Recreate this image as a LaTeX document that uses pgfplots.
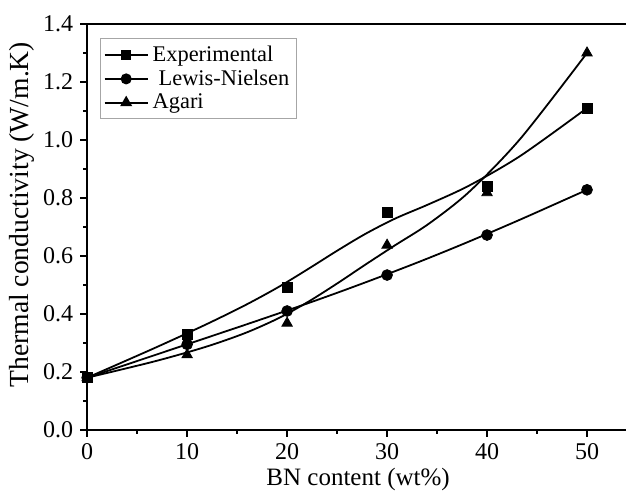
\documentclass[border=0pt]{standalone}
\usepackage{fontspec}
\setmainfont{Liberation Serif}
\usepackage{pgfplots}
\pgfplotsset{compat=1.18}
\begin{document}
\begin{tikzpicture}
\begin{axis}[name=ax, scale only axis, width=271pt, height=203pt,
  xmin=0, xmax=54.2, ymin=0, ymax=1.4,
  xtick={0,10,20,30,40,50}, minor xtick={5,15,25,35,45},
  ytick={0,0.2,0.4,0.6,0.8,1.0,1.2,1.4}, minor ytick={0.1,0.3,0.5,0.7,0.9,1.1,1.3},
  tick pos=left, tick align=outside,
  major tick length=3.5pt, minor tick length=2pt,
  every tick/.style={black, line width=0.8pt},
  axis line style={line width=1pt},
  /pgf/number format/assume math mode=true,
  y tick label style={/pgf/number format/.cd, fixed, fixed zerofill, precision=1},
  tick label style={font=\fontsize{12}{14}\selectfont},
  xlabel={BN content (wt\%)},
  ylabel={Thermal conductivity (W/m.K)},
  xlabel style={font=\fontsize{12.5}{15}\selectfont, at={(axis description cs:0.5,0)}, anchor=center, yshift=-25pt},
  ylabel style={font=\fontsize{13.8}{16}\selectfont, at={(axis description cs:0,0.53)}, anchor=center, yshift=32.6pt},
  legend style={at={(0.024,0.9655)}, anchor=north west, draw=gray!70, line width=0.5pt,
    font=\fontsize{11.2}{12}\selectfont, row sep=-1.2pt, inner sep=1.5pt},
  legend cell align=left,
  legend image code/.code={\draw[mark repeat=2,mark phase=2] plot coordinates {(0cm,0cm) (0.38cm,0cm) (0.76cm,0cm)};},
]
% curves (B-spline style lines)
\addplot[black, line width=0.9pt, smooth, forget plot] coordinates {
(0,0.18) (6.63,0.2805) (11.77,0.3617) (15.82,0.4303) (19.17,0.4933) (22.16,0.5561) (25,0.6178) (27.84,0.6762) (30.83,0.7292) (34.18,0.7784) (38.23,0.843) (43.37,0.9459) (50,1.11)};
\addplot[black, line width=0.9pt, smooth, forget plot] coordinates {
(0,0.18) (6.63,0.2563) (11.77,0.3156) (15.82,0.3625) (19.17,0.4019) (22.16,0.4377) (25,0.4727) (27.84,0.5088) (30.83,0.5478) (34.18,0.5929) (38.23,0.6501) (43.37,0.7261) (50,0.828)};
\addplot[black, line width=0.9pt, smooth, forget plot] coordinates {
(0,0.18) (6.63,0.2353) (11.77,0.2854) (15.82,0.3342) (19.17,0.3856) (22.16,0.4428) (25,0.5048) (27.84,0.5702) (30.83,0.6374) (34.18,0.7111) (38.23,0.8217) (43.37,1.0058) (50,1.30)};
% data points
\addplot[only marks, mark=square*, mark size=2.5pt, black, forget plot] coordinates {
(0,0.18) (10,0.33) (20,0.49) (30,0.75) (40,0.84) (50,1.11)};
\addplot[only marks, mark=*, mark size=2.7pt, black, forget plot] coordinates {
(0,0.18) (10,0.295) (20,0.41) (30,0.534) (40,0.672) (50,0.828)};
\addplot[only marks, mark=triangle*, mark size=3pt, black, forget plot] coordinates {
(0,0.18) (10,0.259) (20,0.368) (30,0.637) (40,0.818) (50,1.30)};
\addlegendimage{black, line width=0.9pt, mark=square*, mark size=2pt}
\addlegendentry{Experimental}
\addlegendimage{black, line width=0.9pt, mark=*, mark size=2.3pt}
\addlegendentry{\hspace{3pt}Lewis-Nielsen}
\addlegendimage{black, line width=0.9pt, mark=triangle*, mark size=2.6pt}
\addlegendentry{Agari}
\end{axis}
\pgfresetboundingbox
\path[use as bounding box] ([xshift=-43.6pt, yshift=-34pt]ax.south west) rectangle ([xshift=269.5pt, yshift=215pt]ax.south west);
\end{tikzpicture}
\end{document}
